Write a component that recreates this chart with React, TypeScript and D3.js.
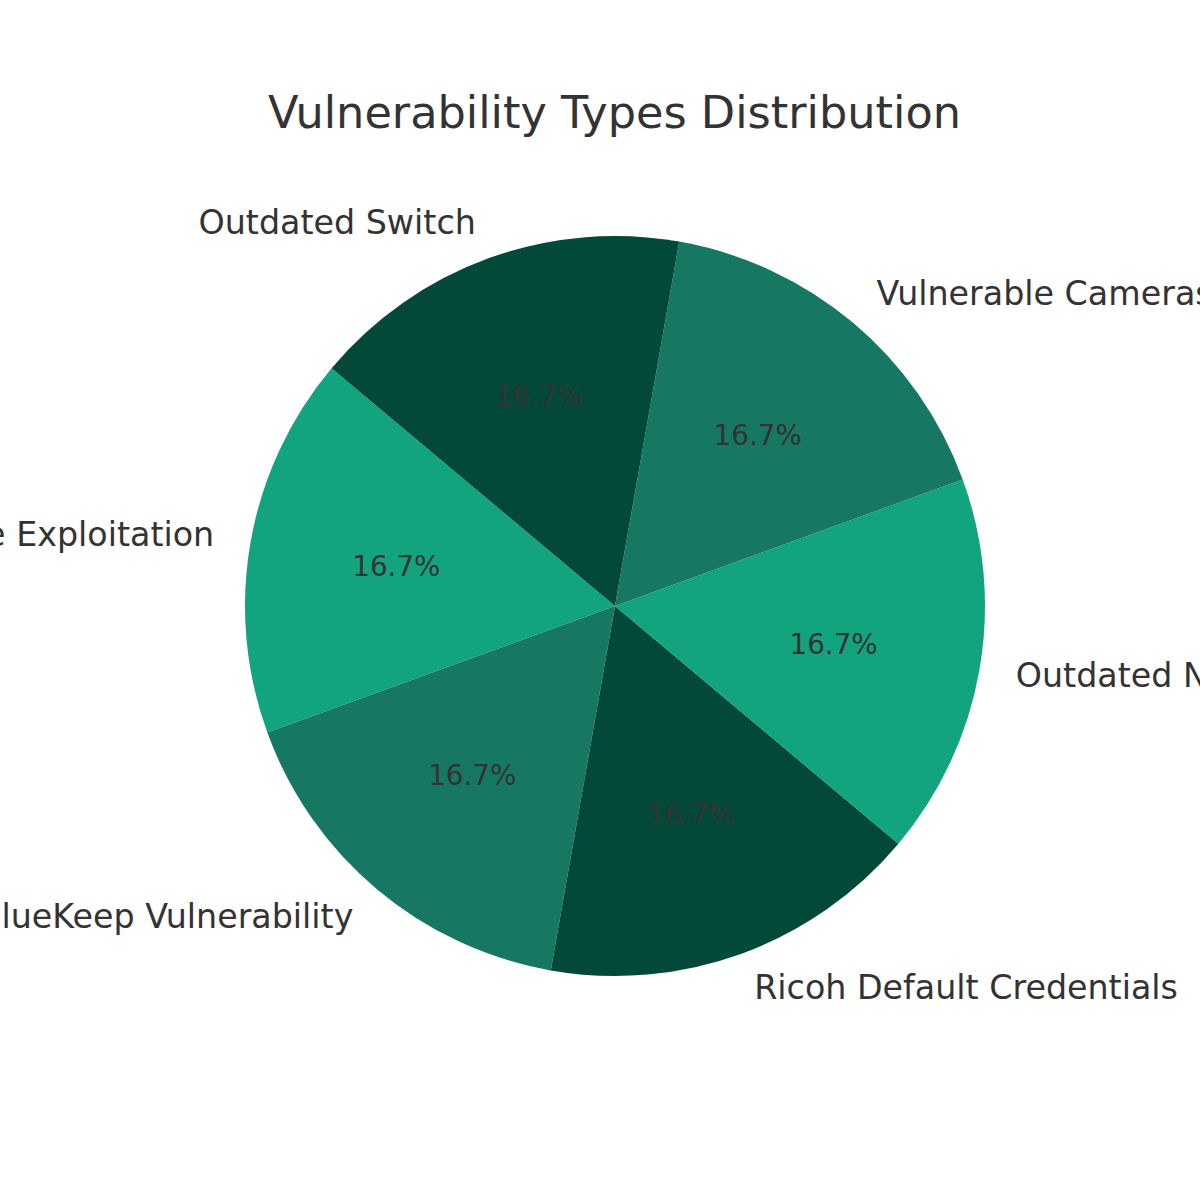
import React, { useRef, useEffect } from "react";
import * as d3 from "d3";

// slice data, counterclockwise from the 140deg start (matplotlib style)
const labels = [
  "EternalBlue Exploitation",
  "BlueKeep Vulnerability",
  "Ricoh Default Credentials",
  "Outdated NAS",
  "Vulnerable Cameras",
  "Outdated Switch",
];
const values = [1, 1, 1, 1, 1, 1];
const colors = ["#12a37f", "#167862", "#03493a"];
const title = "Vulnerability Types Distribution";

const App = () => {
  const ref = useRef<SVGSVGElement>(null);

  useEffect(() => {
    const width = 1200;
    const height = 1200;
    const cx = 615;
    const cy = 606;
    const r = 370;
    const startAngle = 140; // degrees, math convention

    const svg = d3.select(ref.current).attr("width", width).attr("height", height);
    svg.selectAll("*").remove();

    svg.append("rect").attr("width", width).attr("height", height).attr("fill", "white");

    svg.append("text")
      .attr("x", 614.5)
      .attr("y", 128)
      .attr("text-anchor", "middle")
      .style("font-family", "DejaVu Sans")
      .style("font-size", "44.6px")
      .style("fill", "#333333")
      .text(title);

    const total = d3.sum(values);
    // convert matplotlib angle (deg, ccw from +x) to d3 angle (rad, cw from top)
    const toD3 = (deg: number) => ((90 - deg) * Math.PI) / 180;

    let acc = 0;
    const slices = values.map((v, i) => {
      const a0 = startAngle + (acc / total) * 360;
      acc += v;
      const a1 = startAngle + (acc / total) * 360;
      return { i, v, a0, a1, mid: (a0 + a1) / 2 };
    });

    const arc = d3.arc<any>().innerRadius(0).outerRadius(r);

    const g = svg.append("g").attr("transform", `translate(${cx},${cy})`);

    g.selectAll("path")
      .data(slices)
      .enter()
      .append("path")
      .attr("d", (d) => arc({ startAngle: toD3(d.a1), endAngle: toD3(d.a0) }))
      .attr("fill", (d) => colors[d.i % colors.length]);

    // percentage labels
    g.selectAll("text.pct")
      .data(slices)
      .enter()
      .append("text")
      .attr("class", "pct")
      .attr("x", (d) => 0.6 * r * Math.cos((d.mid * Math.PI) / 180))
      .attr("y", (d) => -0.6 * r * Math.sin((d.mid * Math.PI) / 180) - 0.5)
      .attr("text-anchor", "middle")
      .attr("dominant-baseline", "central")
      .style("font-family", "DejaVu Sans")
      .style("font-size", "27.8px")
      .style("fill", "#333333")
      .text((d) => `${((d.v / total) * 100).toFixed(1)}%`);

    // outer labels
    g.selectAll("text.lbl")
      .data(slices)
      .enter()
      .append("text")
      .attr("class", "lbl")
      .attr("x", (d) => 1.1 * r * Math.cos((d.mid * Math.PI) / 180))
      .attr("y", (d) => -1.1 * r * Math.sin((d.mid * Math.PI) / 180) - 1)
      .attr("text-anchor", (d) => (Math.cos((d.mid * Math.PI) / 180) < 0 ? "end" : "start"))
      .attr("dominant-baseline", "central")
      .style("font-family", "DejaVu Sans")
      .style("font-size", "33.3px")
      .style("fill", "#333333")
      .text((d) => labels[d.i]);
  }, []);

  return (
    <div style={{ position: "absolute", left: 0, top: 0 }}>
      <svg ref={ref}></svg>
    </div>
  );
};

export default App;
